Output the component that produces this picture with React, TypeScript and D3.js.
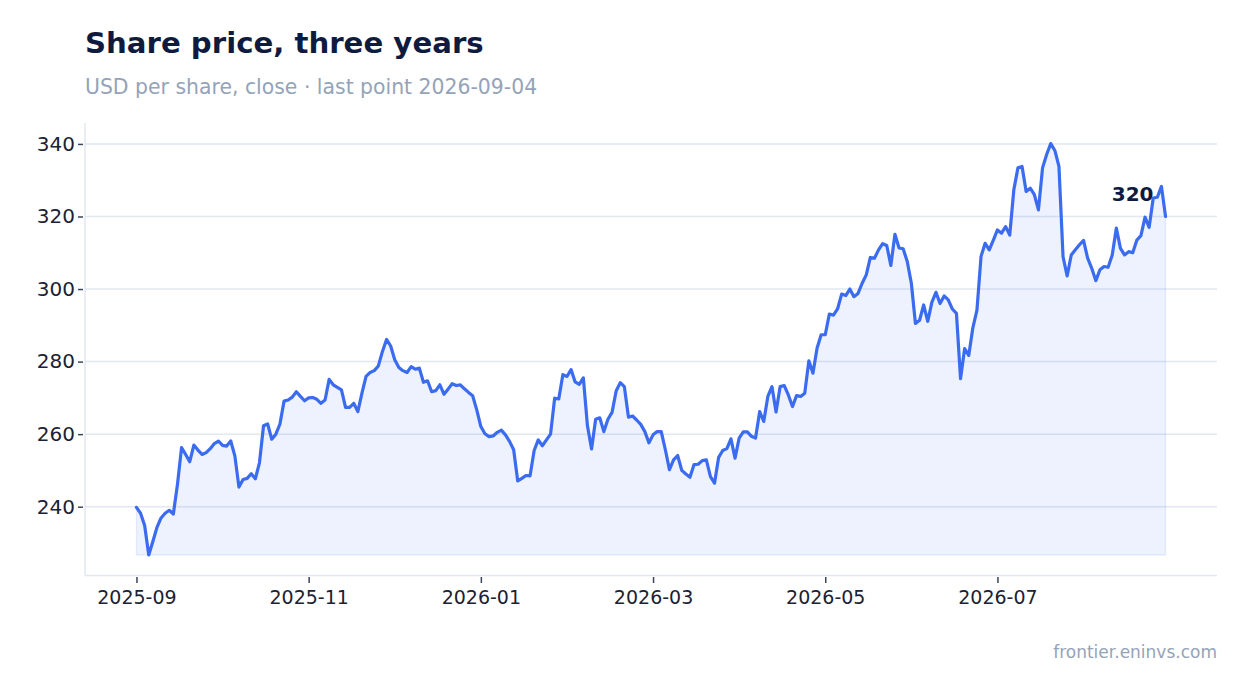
import React, { useEffect, useRef } from 'react';
import * as d3 from 'd3';

// Daily closes (oldest first)
const closes: number[] = [
  239.8, 238.2, 234.8, 226.7, 230.4, 234.3, 236.9, 238.2, 239.0, 238.0,
  246.1, 256.3, 254.4, 252.4, 257.0, 255.6, 254.4, 254.9, 256.0, 257.4,
  258.1, 256.9, 256.7, 258.1, 254.0, 245.4, 247.5, 247.8, 249.1, 247.7,
  252.1, 262.3, 262.8, 258.6, 260.0, 262.8, 269.1, 269.4, 270.2, 271.7,
  270.4,
  269.2, 270.0, 270.1, 269.6, 268.5, 269.4, 275.1, 273.6, 272.9, 272.2,
  267.4, 267.4, 268.5, 266.2, 271.3, 275.9, 277.0, 277.5, 278.8, 282.8,
  286.1, 284.3, 280.5, 278.4, 277.5, 277.0, 278.6, 277.9, 278.2, 274.3,
  274.7, 271.7, 272.0, 273.6, 271.0, 272.4, 273.9, 273.4, 273.6, 272.5,
  271.5, 270.6, 266.7, 262.1, 260.1,
  259.3, 259.5, 260.5, 261.1, 259.8, 258.0, 255.7, 247.1, 247.8, 248.6,
  248.5, 255.5, 258.4, 256.8, 258.4, 260.0, 269.9, 269.7, 276.4, 275.9,
  277.8, 274.4, 273.7, 275.5, 262.3, 255.9, 264.1, 264.5, 260.7, 264.1,
  266.0, 271.9, 274.2, 273.1, 264.7, 265.0, 263.9, 262.7, 260.7, 257.6,
  259.8, 260.7, 260.7, 255.7, 250.2, 252.9, 254.1, 250.0, 249.0, 248.1,
  251.6, 251.7, 252.7, 252.9, 248.3, 246.5, 253.6, 255.5, 256.0, 258.7,
  253.4, 258.9, 260.6, 260.6, 259.4, 258.9, 266.2, 263.5, 270.4, 273.1,
  266.1, 273.1, 273.4, 270.8, 267.6, 270.6, 270.4, 271.3, 280.2, 276.8,
  283.7,
  287.4, 287.4, 293.1, 292.8, 294.5, 298.6, 298.2, 300.0, 297.9, 298.8,
  301.6, 303.9, 308.7, 308.5, 310.8, 312.5, 312.0, 306.5, 315.1, 311.3,
  311.1, 307.6, 301.6, 290.5, 291.4, 295.6, 291.1, 296.3, 299.1, 296.0,
  298.1, 297.0, 294.5, 293.3, 275.3, 283.6, 281.7, 289.3, 294.2, 309.0,
  312.6, 310.8, 313.5, 316.3, 315.4, 317.2, 314.9, 327.4, 333.4, 333.8,
  326.9, 327.8, 326.0, 321.8, 333.4, 337.1, 340.1, 338.2, 333.8, 308.9,
  303.6, 309.4, 310.8, 312.2, 313.4, 308.5, 305.7, 302.3, 305.3, 306.2,
  306.0, 309.4, 316.8, 311.2, 309.4, 310.3, 310.0, 313.5, 314.7, 319.8,
  317.0, 325.1, 325.3, 328.3, 320.0,
];

// x ticks: trading-day index of the first session of every other month
const xTickIndex: number[] = [0, 42, 84, 126, 168, 210];
const xTickLabels: string[] = ['2025-09', '2025-11', '2026-01', '2026-03', '2026-05', '2026-07'];
const yTicks: number[] = [240, 260, 280, 300, 320, 340];

const TITLE = 'Share price, three years';
const SUBTITLE = 'USD per share, close \u00b7 last point 2026-09-04';
const SOURCE = 'frontier.eninvs.com';

const W = 1247;
const H = 693;
const FONT = '"DejaVu Sans", Verdana, sans-serif';

const App: React.FC = () => {
  const svgRef = useRef<SVGSVGElement>(null);

  useEffect(() => {
    document.body.style.margin = '0';
    if (!svgRef.current) return;
    const svg = d3.select(svgRef.current);
    svg.selectAll('*').remove();

    const margin = { top: 123, right: 30, bottom: 117.5, left: 85 };
    const innerW = W - margin.left - margin.right;
    const innerH = H - margin.top - margin.bottom;

    const n = closes.length;
    const xPad = (n - 1) * 0.05;
    const [minV, maxV] = d3.extent(closes) as [number, number];
    const yPad = (maxV - minV) * 0.05;

    const x = d3.scaleLinear().domain([-xPad, n - 1 + xPad]).range([0, innerW]);
    const y = d3.scaleLinear().domain([minV - yPad, maxV + yPad]).range([innerH, 0]);

    // title block
    svg.append('text')
      .attr('x', margin.left).attr('y', 53)
      .attr('font-family', FONT).attr('font-size', 29.2).attr('font-weight', 700)
      .attr('fill', '#0f1b3e')
      .text(TITLE);
    svg.append('text')
      .attr('x', margin.left).attr('y', 94)
      .attr('font-family', FONT).attr('font-size', 20.4)
      .attr('fill', '#94a3b8')
      .text(SUBTITLE);

    const g = svg.append('g').attr('transform', `translate(${margin.left},${margin.top})`);

    // grid
    g.append('g')
      .selectAll('line')
      .data(yTicks)
      .join('line')
      .attr('x1', 0).attr('x2', innerW)
      .attr('y1', d => y(d)).attr('y2', d => y(d))
      .attr('stroke', '#e2e7f0').attr('stroke-width', 1.5);

    // axis lines
    g.append('line')
      .attr('x1', 0).attr('x2', 0).attr('y1', 0).attr('y2', innerH)
      .attr('stroke', '#e2e7f0').attr('stroke-width', 1.5);
    g.append('line')
      .attr('x1', 0).attr('x2', innerW).attr('y1', innerH).attr('y2', innerH)
      .attr('stroke', '#e2e7f0').attr('stroke-width', 1.5);

    // y axis
    const yAxis = g.append('g')
      .call(d3.axisLeft(y).tickValues(yTicks).tickSize(5).tickPadding(5).tickFormat(d => `${d}`));
    yAxis.select('.domain').remove();
    yAxis.selectAll('.tick line').attr('stroke', '#3b4556').attr('stroke-width', 1.5)
      .attr('transform', 'translate(-2,0)');
    yAxis.selectAll('.tick text')
      .attr('font-family', FONT).attr('font-size', 20).attr('fill', '#1a2233');

    // x axis
    const xAxis = g.append('g')
      .attr('transform', `translate(0,${innerH})`)
      .call(d3.axisBottom(x).tickValues(xTickIndex).tickSize(6).tickPadding(9)
        .tickFormat((_, i) => xTickLabels[i]));
    xAxis.select('.domain').remove();
    xAxis.selectAll('.tick line').attr('stroke', '#3b4556').attr('stroke-width', 1.5)
      .attr('transform', 'translate(0,1.5)');
    xAxis.selectAll('.tick text')
      .attr('font-family', FONT).attr('font-size', 19).attr('fill', '#1a2233');

    // area under the line, down to the lowest close
    const area = d3.area<number>()
      .x((_, i) => x(i))
      .y0(y(minV))
      .y1(d => y(d));
    g.append('path')
      .datum(closes)
      .attr('fill', '#3b6cf0').attr('fill-opacity', 0.09)
      .attr('stroke', '#3b6cf0').attr('stroke-opacity', 0.1).attr('stroke-width', 1.5)
      .attr('d', area);

    const line = d3.line<number>()
      .x((_, i) => x(i))
      .y(d => y(d));
    g.append('path')
      .datum(closes)
      .attr('fill', 'none')
      .attr('stroke', '#3b6cf0').attr('stroke-width', 3.2)
      .attr('stroke-linejoin', 'round').attr('stroke-linecap', 'round')
      .attr('d', line);

    // last value label
    const last = closes[n - 1];
    g.append('text')
      .attr('x', x(n - 1) - 12).attr('y', y(last) - 15)
      .attr('text-anchor', 'end')
      .attr('font-family', FONT).attr('font-size', 20).attr('font-weight', 700)
      .attr('fill', '#0f1b3e')
      .text(d3.format('.0f')(last));

    // source
    svg.append('text')
      .attr('x', W - margin.right).attr('y', 658)
      .attr('text-anchor', 'end')
      .attr('font-family', FONT).attr('font-size', 17)
      .attr('fill', '#94a3b8')
      .text(SOURCE);
  }, []);

  return <svg ref={svgRef} width={W} height={H} style={{ display: 'block', background: '#fff' }} />;
};

export default App;
